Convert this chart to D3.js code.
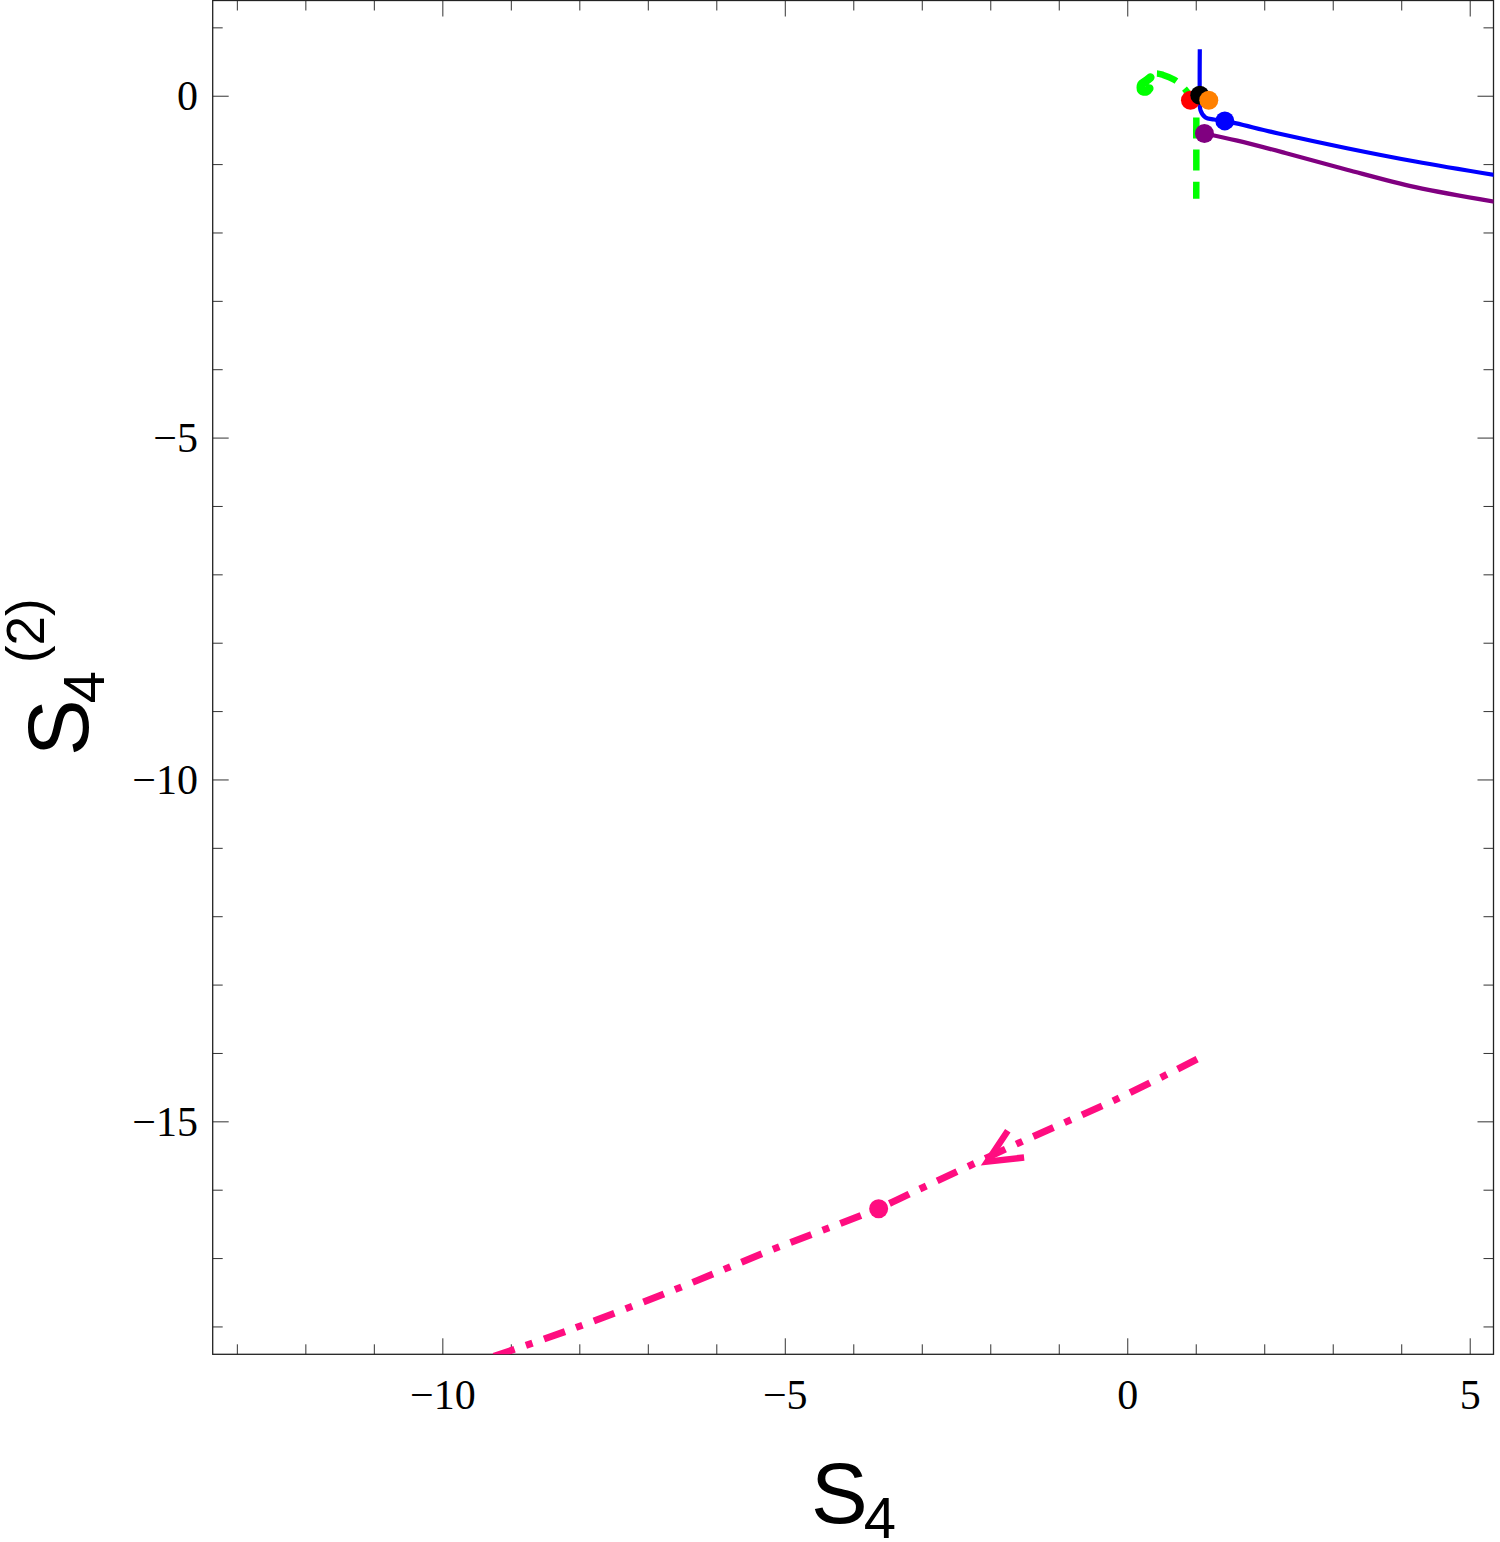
<!DOCTYPE html>
<html>
<head>
<meta charset="utf-8">
<script src="https://cdn.jsdelivr.net/npm/d3@7"></script>
<style>
  body { margin: 0; background: #fff; }
  svg { display: block; }
</style>
</head>
<body>
<svg id="chart" width="1500" height="1542"></svg>
<script>
// curves (data units)
// green: tight curl at the start, then dashed arc and vertical drop
var greenX = [0.315, 0.272, 0.199, 0.199, 0.257, 0.33, 0.4, 0.52, 0.68, 0.82, 0.93, 0.99, 1.0, 1.0];
var greenY = [0.114, 0.07, 0.085, 0.173, 0.216, 0.275, 0.33, 0.31, 0.24, 0.12, -0.03, -0.2, -0.6, -1.5];
var greenCurl = 6; // first points drawn as one solid stroke

var blueX = [1.052, 1.052, 1.062, 1.135, 1.256, 1.417, 2.2, 3.2, 4.2, 5.37];
var blueY = [0.687, -0.01, -0.205, -0.311, -0.341, -0.361, -0.545, -0.76, -0.955, -1.155];

var purpleX = [1.12, 1.6, 2.3, 3.2, 4.2, 5.37];
var purpleY = [-0.545, -0.65, -0.83, -1.075, -1.33, -1.545];

var pinkX = [1.013, -0.131, -1.592, -2.988, -3.637, -5.218, -6.679, -8.14, -9.31];
var pinkY = [-14.083, -14.653, -15.31, -15.96, -16.265, -16.88, -17.48, -18.04, -18.45];
var pinkArrowAt = -2.05;

var dots = [
  { x: 0.916, y: -0.058, color: "#ff0000" },
  { x: 1.052, y: 0.015, color: "#000000" },
  { x: 1.183, y: -0.058, color: "#ff8000" },
  { x: 1.417, y: -0.361, color: "#0000ff" },
  { x: 1.12, y: -0.545, color: "#800080" },
  { x: -3.637, y: -16.27, color: "#ff0d80" }
];

var xMajor = [-10, -5, 0, 5];
var yMajor = [0, -5, -10, -15];

var plotLeft = 212.7, plotRight = 1493.5, plotTop = 0.5, plotBottom = 1354.3;

var x = d3.scaleLinear().domain([-13.36, 5.34]).range([plotLeft, plotRight]);
var y = d3.scaleLinear().domain([-18.4, 1.40]).range([plotBottom, plotTop]);

var svg = d3.select("#chart");

svg.append("defs").append("clipPath").attr("id", "plotClip")
  .append("rect")
  .attr("x", plotLeft).attr("y", plotTop)
  .attr("width", plotRight - plotLeft).attr("height", plotBottom - plotTop);

function fmt(v) {
  return v < 0 ? "\u2212" + Math.abs(v) : String(v);
}

// frame ticks, pointing inward on all four sides
var tickG = svg.append("g").attr("stroke", "#333").attr("stroke-width", 1);
d3.range(-13, 6).forEach(function (v) {
  var len = v % 5 === 0 ? 16 : 10;
  var px = x(v);
  tickG.append("line").attr("x1", px).attr("x2", px).attr("y1", plotBottom).attr("y2", plotBottom - len);
  tickG.append("line").attr("x1", px).attr("x2", px).attr("y1", plotTop).attr("y2", plotTop + len);
});
d3.range(-18, 2).forEach(function (v) {
  var len = v % 5 === 0 ? 16 : 10;
  var py = y(v);
  tickG.append("line").attr("x1", plotLeft).attr("x2", plotLeft + len).attr("y1", py).attr("y2", py);
  tickG.append("line").attr("x1", plotRight).attr("x2", plotRight - len).attr("y1", py).attr("y2", py);
});

svg.append("rect")
  .attr("x", plotLeft).attr("y", plotTop)
  .attr("width", plotRight - plotLeft).attr("height", plotBottom - plotTop)
  .attr("fill", "none").attr("stroke", "#222").attr("stroke-width", 1.3);

// tick labels
var labG = svg.append("g")
  .attr("font-family", "'Liberation Serif', 'Times New Roman', serif")
  .attr("font-size", 42).attr("fill", "#000");
xMajor.forEach(function (v) {
  labG.append("text").attr("x", x(v)).attr("y", plotBottom + 55)
    .attr("text-anchor", "middle").text(fmt(v));
});
yMajor.forEach(function (v) {
  labG.append("text").attr("x", 198).attr("y", y(v) + 14)
    .attr("text-anchor", "end").text(fmt(v));
});

// axis titles
var sans = "'Liberation Sans', Arial, sans-serif";
var xt = svg.append("text").attr("x", 811).attr("y", 1523)
  .attr("font-family", sans).attr("fill", "#000");
xt.append("tspan").attr("font-size", 85).text("S");
xt.append("tspan").attr("font-size", 58).attr("dx", -4).attr("dy", 15).text("4");

var yt = svg.append("text")
  .attr("transform", "translate(88,756) rotate(-90)")
  .attr("font-family", sans).attr("fill", "#000");
yt.append("tspan").attr("font-size", 85).text("S");
yt.append("tspan").attr("font-size", 58).attr("dx", -4).attr("dy", 16).text("4");
yt.append("tspan").attr("font-size", 53).attr("dx", 8).attr("dy", -60).text("(2)");

// curves
var plot = svg.append("g").attr("clip-path", "url(#plotClip)");

function pts(xs, ys) {
  return xs.map(function (v, i) { return [x(v), y(ys[i])]; });
}
var line = d3.line().curve(d3.curveCatmullRom.alpha(0.5));

var greenPts = pts(greenX, greenY);
plot.append("path").attr("d", line(greenPts.slice(greenCurl - 1)))
  .attr("fill", "none").attr("stroke", "#00ff00").attr("stroke-width", 6.5)
  .attr("stroke-dasharray", "21,11").attr("stroke-dashoffset", 24);
plot.append("path").attr("d", line(greenPts.slice(0, greenCurl)))
  .attr("fill", "none").attr("stroke", "#00ff00").attr("stroke-width", 8.5)
  .attr("stroke-linejoin", "round").attr("stroke-linecap", "round");

plot.append("path").attr("d", line(pts(blueX, blueY)))
  .attr("fill", "none").attr("stroke", "#0000ff").attr("stroke-width", 4.2);

plot.append("path").attr("d", line(pts(purpleX, purpleY)))
  .attr("fill", "none").attr("stroke", "#800080").attr("stroke-width", 4.2);

plot.append("path").attr("d", line(pts(pinkX, pinkY)))
  .attr("fill", "none").attr("stroke", "#ff0d80").attr("stroke-width", 7)
  .attr("stroke-dasharray", "22,12,7,12");

// arrowhead on the pink curve, pointing toward decreasing x
var pinkInterp = d3.scaleLinear().domain(pinkX).range(pinkY);
var tipX = x(pinkArrowAt), tipY = y(pinkInterp(pinkArrowAt)) + 4;
var backX = x(pinkArrowAt + 0.4), backY = y(pinkInterp(pinkArrowAt + 0.4));
var ang = Math.atan2(backY - tipY, backX - tipX);
var wing = 37, half = 25 * Math.PI / 180;
var arrowPath = "M" + (tipX + wing * Math.cos(ang - half)) + "," + (tipY + wing * Math.sin(ang - half)) +
  "L" + tipX + "," + tipY +
  "L" + (tipX + wing * Math.cos(ang + half)) + "," + (tipY + wing * Math.sin(ang + half));
plot.append("path").attr("d", arrowPath)
  .attr("fill", "none").attr("stroke", "#ff0d80").attr("stroke-width", 6.5)
  .attr("stroke-linejoin", "miter");

plot.selectAll("circle.pt").data(dots).enter().append("circle")
  .attr("class", "pt")
  .attr("cx", function (d) { return x(d.x); })
  .attr("cy", function (d) { return y(d.y); })
  .attr("r", 9.5)
  .attr("fill", function (d) { return d.color; });
</script>
</body>
</html>
